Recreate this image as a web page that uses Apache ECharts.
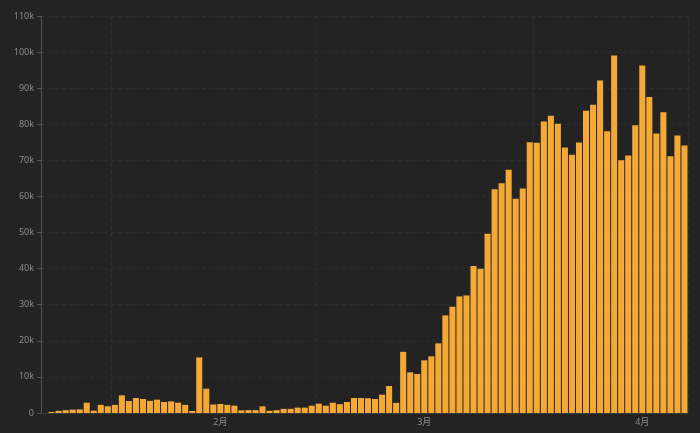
<!DOCTYPE html>
<html>
<head>
<meta charset="utf-8">
<script src="https://cdn.jsdelivr.net/npm/echarts@6/dist/echarts.min.js"></script>
<style>
html,body{margin:0;padding:0;background:#232323;}
#chart{width:700px;height:433px;}
</style>
</head>
<body>
<div id="chart"></div>
<script>
const dates = [
'01-22','01-23','01-24','01-25','01-26','01-27','01-28','01-29','01-30','01-31',
'02-01','02-02','02-03','02-04','02-05','02-06','02-07','02-08','02-09','02-10',
'02-11','02-12','02-13','02-14','02-15','02-16','02-17','02-18','02-19','02-20',
'02-21','02-22','02-23','02-24','02-25','02-26','02-27','02-28','02-29',
'03-01','03-02','03-03','03-04','03-05','03-06','03-07','03-08','03-09','03-10',
'03-11','03-12','03-13','03-14','03-15','03-16','03-17','03-18','03-19','03-20',
'03-21','03-22','03-23','03-24','03-25','03-26','03-27','03-28','03-29','03-30','03-31',
'04-01','04-02','04-03','04-04','04-05','04-06','04-07','04-08','04-09','04-10',
'04-11','04-12','04-13','04-14','04-15','04-16','04-17','04-18','04-19','04-20',
'04-21','04-22'
];
const newCases = [
0,300,600,780,950,1000,2860,650,2250,1850,
2250,4900,3320,4150,3880,3370,3700,3050,3230,2860,
2250,550,15400,6740,2350,2500,2250,2030,740,800,
800,1850,600,780,1150,1150,1480,1480,2030,
2590,2030,2860,2450,3050,4150,4150,4100,3880,5080,
7480,2800,16950,11270,10800,14590,15700,19300,27040,29440,
32300,32580,40700,39970,49660,62030,63690,67380,59350,62210,75040,
74860,80760,82330,80120,73560,71530,74950,83720,85380,92120,
78090,99040,70060,71350,79750,96270,87590,77440,83350,71160,
76890,74120
];
const monthStarts = ['02-01','03-01','04-01'];
const monthLabelAt = ['02-16','03-16','04-16'];
const yTicks = [0,10000,20000,30000,40000,50000,60000,70000,80000,90000,100000,110000];

const chart = echarts.init(document.getElementById('chart'), null, {renderer:'canvas'});
const font = '"Noto Sans", "Noto Sans CJK SC", sans-serif';
chart.setOption({
  backgroundColor: '#232323',
  animation: false,
  grid: {left: 41, right: 12, top: 16, bottom: 20, containLabel: false},
  xAxis: {
    type: 'category',
    data: dates,
    boundaryGap: true,
    axisLine: {show: true, lineStyle: {color: '#383838'}},
    axisTick: {show: false},
    axisLabel: {
      interval: function (i, v) { return monthLabelAt.indexOf(v) >= 0; },
      formatter: function (v) { return parseInt(v.slice(0, 2), 10) + '月'; },
      color: '#8c8c8c', fontSize: 9, fontFamily: font, margin: 5
    },
    splitLine: {
      show: true,
      interval: function (i, v) { return monthStarts.indexOf(v) >= 0; },
      lineStyle: {color: '#2e2e2e', type: [4, 3], width: 1}
    }
  },
  yAxis: {
    type: 'value',
    min: yTicks[0],
    max: yTicks[yTicks.length - 1],
    interval: 10000,
    axisLine: {show: true, lineStyle: {color: '#555555'}},
    axisTick: {show: true, length: 4, lineStyle: {color: '#555555'}},
    axisLabel: {
      color: '#8c8c8c', fontSize: 9, fontFamily: font, margin: 7,
      formatter: function (v) { return v === 0 ? '0' : (v / 1000) + 'k'; }
    },
    splitLine: {show: true, lineStyle: {color: '#2d2d2d', type: [4, 3], width: 1}}
  },
  series: [{
    type: 'bar',
    data: newCases,
    barCategoryGap: '14%',
    itemStyle: {color: '#f4a936'}
  }]
});
</script>
</body>
</html>
